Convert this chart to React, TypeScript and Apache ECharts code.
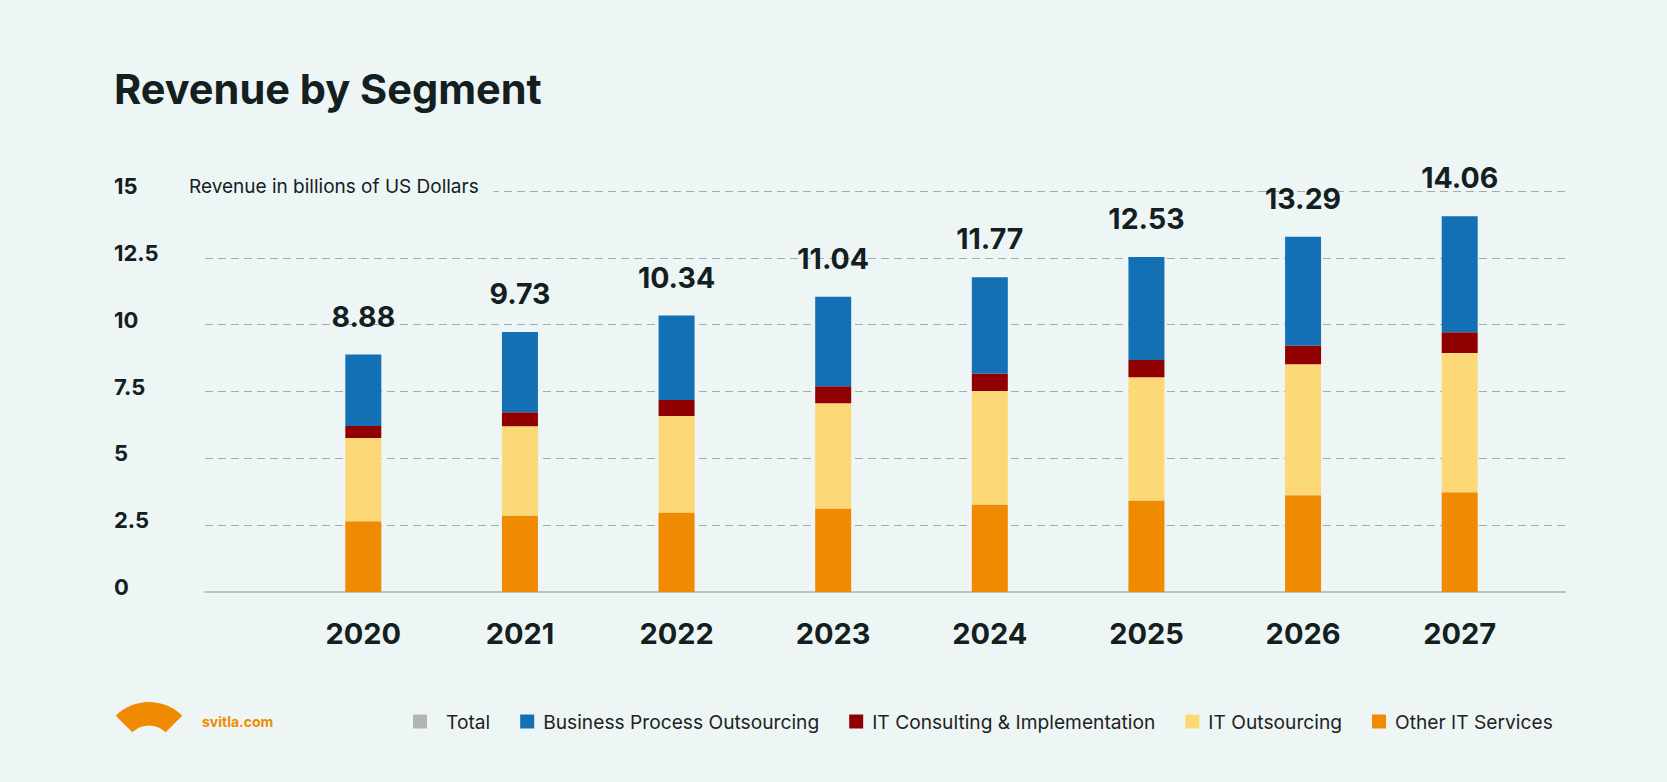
import React, { useEffect, useRef } from "react";
import * as echarts from "echarts";

const years = ["2020", "2021", "2022", "2023", "2024", "2025", "2026", "2027"];
const otherIT = [2.65, 2.86, 2.97, 3.12, 3.27, 3.42, 3.62, 3.73];
const itOutsourcing = [3.11, 3.34, 3.61, 3.94, 4.25, 4.61, 4.9, 5.21];
const itConsulting = [0.45, 0.52, 0.6, 0.64, 0.65, 0.65, 0.7, 0.78];
const bpo = [2.67, 3.01, 3.16, 3.34, 3.6, 3.85, 4.07, 4.34];
const totals = [8.88, 9.73, 10.34, 11.04, 11.77, 12.53, 13.29, 14.06];
const yTicks = [0, 2.5, 5, 7.5, 10, 12.5, 15];

const BG = "#eef6f5";
const DARK = "#13201f";
const FONT = "Inter, 'Noto Sans', sans-serif";

export default function App() {
  const ref = useRef<HTMLDivElement>(null);
  useEffect(() => {
    if (!ref.current) return;
    const chart = echarts.init(ref.current, undefined, { renderer: "svg" });
    const yMin = yTicks[0];
    const yMax = yTicks[yTicks.length - 1];
    const yInt = yTicks[1] - yTicks[0];
    const gridTop = 191;
    const gridBottom = 190;
    const option: any = {
      animation: false,
      backgroundColor: BG,
      textStyle: { fontFamily: FONT },
      grid: [
        { left: 205, right: 102, top: gridTop, bottom: gridBottom },
        { left: 285, right: 129, top: gridTop, bottom: gridBottom },
      ],
      xAxis: [
        {
          gridIndex: 0,
          type: "category",
          data: [""],
          axisLine: { show: true, lineStyle: { color: "#bcc3c3", width: 2 } },
          axisTick: { show: false },
          axisLabel: { show: false },
          splitLine: { show: false },
        },
        {
          gridIndex: 1,
          type: "category",
          data: years,
          axisLine: { show: false },
          axisTick: { show: false },
          axisLabel: {
            show: true,
            margin: 27,
            fontSize: 29,
            fontWeight: 700,
            color: DARK,
            fontFamily: FONT,
          },
        },
      ],
      yAxis: [
        {
          gridIndex: 0,
          type: "value",
          min: yMin,
          max: yMax,
          interval: yInt,
          axisLine: { show: false },
          axisTick: { show: false },
          axisLabel: {
            show: true,
            align: "left",
            margin: 91,
            fontSize: 22,
            fontWeight: 700,
            color: DARK,
            fontFamily: FONT,
            verticalAlign: "bottom",
            lineHeight: 10,
          },
          splitLine: {
            show: true,
            lineStyle: { color: "#a3abab", type: [8, 5], width: 1 },
          },
        },
        {
          gridIndex: 1,
          type: "value",
          min: yMin,
          max: yMax,
          interval: yInt,
          show: false,
          splitLine: { show: false },
        },
      ],
      legend: {
        left: 408,
        top: 707,
        itemWidth: 14,
        itemHeight: 14,
        itemGap: 30,
        icon: "rect",
        textStyle: { fontSize: 19.2, color: "#222", fontFamily: FONT, padding: [0, 0, 0, 4] },
        data: [
          {
            name: "Total",
            itemStyle: { color: "#b3b3b3", opacity: 1 },
            textStyle: { padding: [0, 7, 0, 14] },
          },
          { name: "Business Process Outsourcing" },
          { name: "IT Consulting & Implementation" },
          { name: "IT Outsourcing" },
          { name: "Other IT Services" },
        ],
      },
      series: [
        {
          name: "Other IT Services",
          type: "bar",
          stack: "seg",
          xAxisIndex: 1,
          yAxisIndex: 1,
          barWidth: 36,
          itemStyle: { color: "#f08a00" },
          data: otherIT,
        },
        {
          name: "IT Outsourcing",
          type: "bar",
          stack: "seg",
          xAxisIndex: 1,
          yAxisIndex: 1,
          barWidth: 36,
          itemStyle: { color: "#fcd877" },
          data: itOutsourcing,
        },
        {
          name: "IT Consulting & Implementation",
          type: "bar",
          stack: "seg",
          xAxisIndex: 1,
          yAxisIndex: 1,
          barWidth: 36,
          itemStyle: { color: "#900000" },
          data: itConsulting,
        },
        {
          name: "Business Process Outsourcing",
          type: "bar",
          stack: "seg",
          xAxisIndex: 1,
          yAxisIndex: 1,
          barWidth: 36,
          itemStyle: { color: "#1370b5" },
          data: bpo,
        },
        {
          name: "Total",
          type: "bar",
          xAxisIndex: 1,
          yAxisIndex: 1,
          barWidth: 36,
          barGap: "-100%",
          itemStyle: { color: "rgba(0,0,0,0)" },
          label: {
            show: true,
            position: "top",
            distance: 24,
            fontSize: 28.5,
            fontWeight: 700,
            color: DARK,
            fontFamily: FONT,
            formatter: (p: any) => Number(p.value).toFixed(2),
          },
          data: totals,
        },
      ],
      graphic: [
        {
          type: "text",
          x: 114,
          y: 89,
          z: 100,
          style: {
            text: "Revenue by Segment",
            fontSize: 41.5,
            fontWeight: 700,
            fontFamily: FONT,
            fill: DARK,
            align: "left",
            verticalAlign: "middle",
          },
        },
        {
          type: "text",
          x: 189,
          y: 186,
          z: 100,
          style: {
            text: "Revenue in billions of US Dollars",
            fontSize: 19,
            fontFamily: FONT,
            fill: DARK,
            align: "left",
            verticalAlign: "middle",
            backgroundColor: BG,
            padding: [4, 15, 4, 0],
          },
        },
        {
          type: "sector",
          z: 100,
          shape: {
            cx: 149,
            cy: 749,
            r: 47,
            r0: 23.6,
            startAngle: (5 * Math.PI) / 4,
            endAngle: (7 * Math.PI) / 4,
            clockwise: true,
          },
          style: { fill: "#f08a00" },
        },
        {
          type: "text",
          x: 202,
          y: 721,
          z: 100,
          style: {
            text: "svitla.com",
            fontSize: 14,
            fontWeight: 700,
            fontFamily: FONT,
            fill: "#f08a00",
            align: "left",
            verticalAlign: "middle",
          },
        },
      ],
    };
    chart.setOption(option);
    return () => chart.dispose();
  }, []);
  return (
    <div
      ref={ref}
      style={{ position: "fixed", left: 0, top: 0, width: 1667, height: 782, background: BG }}
    />
  );
}
